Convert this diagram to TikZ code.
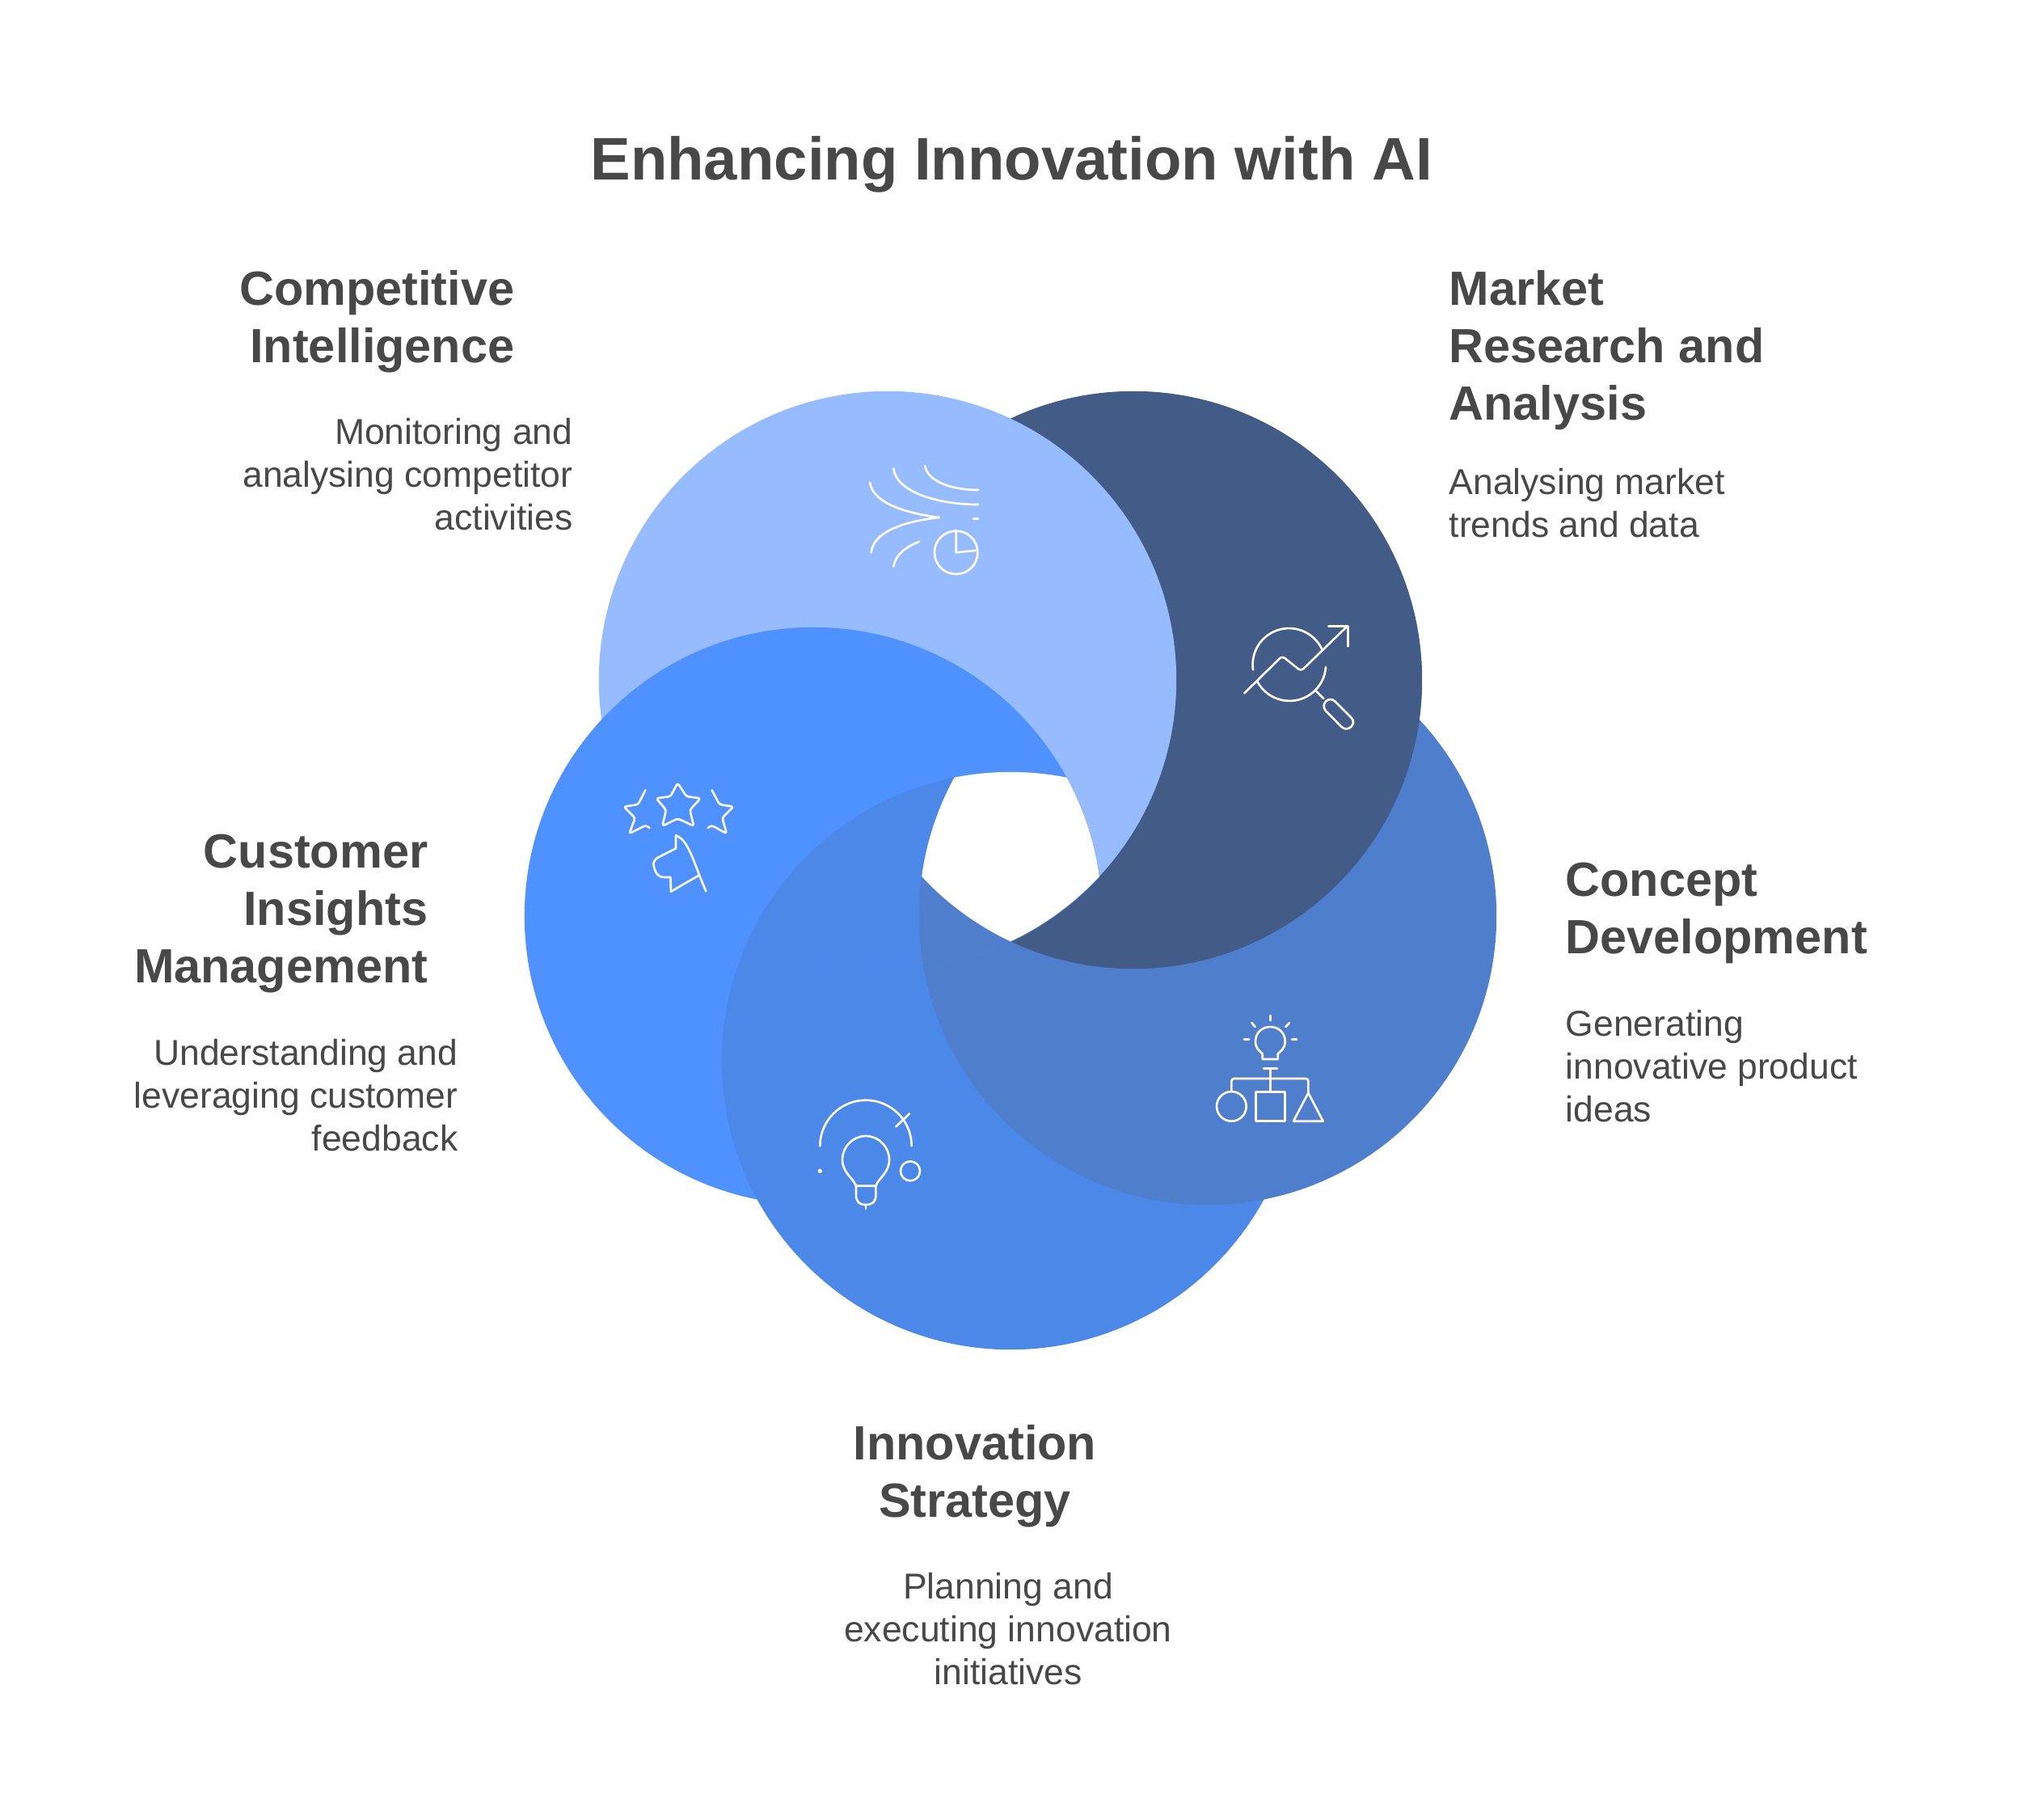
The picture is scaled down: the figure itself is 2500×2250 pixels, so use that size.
\documentclass[tikz,border=0pt]{standalone}
\usepackage{fontspec}
\setmainfont{Liberation Sans}
\usepackage{xcolor}
\usetikzlibrary{positioning}
\definecolor{compblue}{HTML}{96BBFF}
\definecolor{marketblue}{HTML}{435C87}
\definecolor{conceptblue}{HTML}{4F7FCC}
\definecolor{strategyblue}{HTML}{4C88E8}
\definecolor{customerblue}{HTML}{4F91FF}
\definecolor{inktext}{HTML}{484848}

\begin{document}
\begin{tikzpicture}[
  x=0.01cm, y=-0.01cm,
  title/.style={font=\fontsize{21.15}{26}\selectfont\bfseries, text=inktext, inner sep=0pt},
  head/.style={font=\fontsize{16.9}{20.2}\selectfont\bfseries, text=inktext, inner sep=0pt},
  desc/.style={font=\fontsize{12.65}{15.1}\selectfont, text=inktext, inner sep=0pt},
  icon/.style={draw=white, line width=0.75pt, line cap=round, line join=round},
  zoomed/.style={x=0.01cm/3, y=-0.01cm/3}
]
\useasboundingbox (0,0) rectangle (2500,2250);
\def\rad{3.57cm}

% ── Circle centres ───────────────────────────────────────────
\coordinate (comp)     at (1098,841);
\coordinate (market)   at (1402,841);
\coordinate (concept)  at (1494,1133);
\coordinate (strategy) at (1250,1312);
\coordinate (customer) at (1006,1133);

% ── Ring, each circle over the next one ──────────────────────
\fill[customerblue] (customer) circle[radius=\rad];
\fill[strategyblue] (strategy) circle[radius=\rad];
\fill[conceptblue]  (concept)  circle[radius=\rad];
\fill[marketblue]   (market)   circle[radius=\rad];
\fill[compblue]     (comp)     circle[radius=\rad];

% ── Closing the pinwheel, and the hole ───────────────────────
\begin{scope}
  \clip (comp) circle[radius=\rad+0.006cm];
  \fill[customerblue] (customer) circle[radius=\rad];
  \clip (customer) circle[radius=\rad];
  \fill[strategyblue] (strategy) circle[radius=\rad];
  \clip (strategy) circle[radius=\rad];
  \fill[conceptblue] (concept) circle[radius=\rad];
  \clip (concept) circle[radius=\rad];
  \clip (comp) circle[radius=\rad];
  \fill[white] (market) circle[radius=\rad];
\end{scope}

% ── Competitive icon ─────────────────────────────────────────
\begin{scope}[shift={(1000,530)}, zoomed]
  \draw[icon] (228,200) .. controls (240,280) and (370,315) .. (485,330);
  \draw[icon] (233,460) .. controls (240,385) and (350,345) .. (485,330);
  \draw[icon] (316,148) .. controls (325,235) and (480,282) .. (630,282);
  \draw[icon] (433,138) .. controls (440,195) and (530,228) .. (630,228);
  \draw[icon] (316,512) .. controls (322,470) and (360,440) .. (410,420);
  \draw[icon] (612,334) -- (630,334);
  \draw[icon] (548,460) circle[radius=0.267cm];
  \draw[icon] (548,378) -- (548,460) -- (625,452);
\end{scope}

% ── Market icon ──────────────────────────────────────────────
\begin{scope}[shift={(1500,740)}, zoomed]
  \draw[icon] (150,265) arc[start angle=172, end angle=336, radius=135];
  \draw[icon] (420,255) arc[start angle=4, end angle=153, radius=135];
  \draw[icon, rounded corners=0.04cm] (118,352) -- (258,214) -- (328,270) -- (500,103);
  \draw[icon] (430,103) -- (503,103) -- (503,178);
  \draw[icon] (385,345) -- (412,372);
  \draw[icon, rounded corners=0.08cm] (437,365) -- (403,400) -- (495,494) -- (532,460) -- cycle;
\end{scope}

% ── Concept icon ─────────────────────────────────────────────
\begin{scope}[shift={(1480,1240)}, zoomed]
  \draw[icon] (274,48) -- (274,66);
  \draw[icon] (205,75) -- (218,90);
  \draw[icon] (345,75) -- (331,90);
  \draw[icon] (177,137) -- (195,137);
  \draw[icon] (354,137) -- (372,137);
  \draw[icon] (245,210) -- (245,190) .. controls (235,180) and (219,170) .. (219,145)
    .. controls (219,110) and (245,90) .. (274,90)
    .. controls (303,90) and (329,110) .. (329,145)
    .. controls (329,170) and (312,180) .. (302,190) -- (302,210) -- cycle;
  \draw[icon] (249,244) -- (300,244);
  \draw[icon] (274,244) -- (274,330);
  \draw[icon, rounded corners=0.03cm] (130,330) -- (130,282) -- (415,282) -- (415,335);
  \draw[icon] (130,385) circle[radius=0.183cm];
  \draw[icon] (220,332) rectangle (328,440);
  \draw[icon] (415,335) -- (470,440) -- (360,440) -- cycle;
\end{scope}

% ── Strategy icon ────────────────────────────────────────────
\begin{scope}[shift={(980,1340)}, zoomed]
  \draw[icon] (103,232) arc[start angle=180, end angle=360, radius=170];
  \draw[icon] (385,160) -- (435,112);
  \fill[white] (103,325) circle[radius=0.027cm];
  \draw[icon] (438,325) circle[radius=0.12cm];
  \draw[icon] (237,380) .. controls (225,350) and (186,330) .. (186,283)
    .. controls (186,235) and (225,195) .. (273,195)
    .. controls (321,195) and (360,235) .. (360,283)
    .. controls (360,330) and (322,350) .. (310,380) -- cycle;
  \draw[icon] (237,380) -- (237,415) .. controls (237,440) and (250,450) .. (273,450)
    .. controls (296,450) and (310,440) .. (310,415) -- (310,380);
  \draw[icon] (273,450) -- (273,465);
\end{scope}

% ── Customer icon ────────────────────────────────────────────
\begin{scope}[shift={(750,950)}, zoomed]
  \draw[icon, rounded corners=0.03cm] (265,55) -- (297,105) -- (350,112) -- (310,155) -- (325,215)
    -- (265,187) -- (208,215) -- (222,155) -- (185,112) -- (238,105) -- cycle;
  \draw[icon, rounded corners=0.03cm] (145,82) -- (118,135) -- (65,143) -- (107,185) -- (85,243) -- (147,212) -- (160,222);
  \draw[icon, rounded corners=0.03cm] (392,82) -- (420,135) -- (472,143) -- (430,185) -- (447,243) -- (390,212) -- (377,222);
  \draw[icon] (258,298) -- (258,250) .. controls (290,260) and (310,300) .. (345,397) -- (370,457);
  \draw[icon, rounded corners=0.06cm] (258,298) -- (175,340) -- (175,370) -- (195,405) -- (238,405);
  \draw[icon] (238,405) -- (240,458) -- (345,397);
\end{scope}

% ── Title ────────────────────────────────────────────────────
\node[title] (maintitle) at (1251,203) {Enhancing Innovation with AI};

% ── Labels ───────────────────────────────────────────────────
\node[head, align=right, anchor=north east] (comphead) at (637,334) {Competitive\\Intelligence};
\node[desc, align=right, below=0.54cm of comphead.south east, anchor=north east, xshift=0.72cm] (compdesc)
  {Monitoring and\\analysing competitor\\activities};

\node[head, align=left, anchor=north west] (markethead) at (1792,334) {Market\\Research and\\Analysis};
\node[desc, align=left, below=0.46cm of markethead.south west, anchor=north west] (marketdesc)
  {Analysing market\\trends and data};

\node[head, align=left, anchor=north west] (concepthead) at (1936,1066) {Concept\\Development};
\node[desc, align=left, below=0.56cm of concepthead.south west, anchor=north west] (conceptdesc)
  {Generating\\innovative product\\ideas};

\node[head, align=right, anchor=north east] (customerhead) at (530,1031) {Customer\\Insights\\Management};
\node[desc, align=right, below=0.56cm of customerhead.south east, anchor=north east, xshift=0.37cm] (customerdesc)
  {Understanding and\\leveraging customer\\feedback};

\node[head, align=center, anchor=north] (strategyhead) at (1206,1762) {Innovation\\Strategy};
\node[desc, align=center, below=0.54cm of strategyhead.south, anchor=north, xshift=0.41cm] (strategydesc)
  {Planning and\\executing innovation\\initiatives};
\end{tikzpicture}
\end{document}
